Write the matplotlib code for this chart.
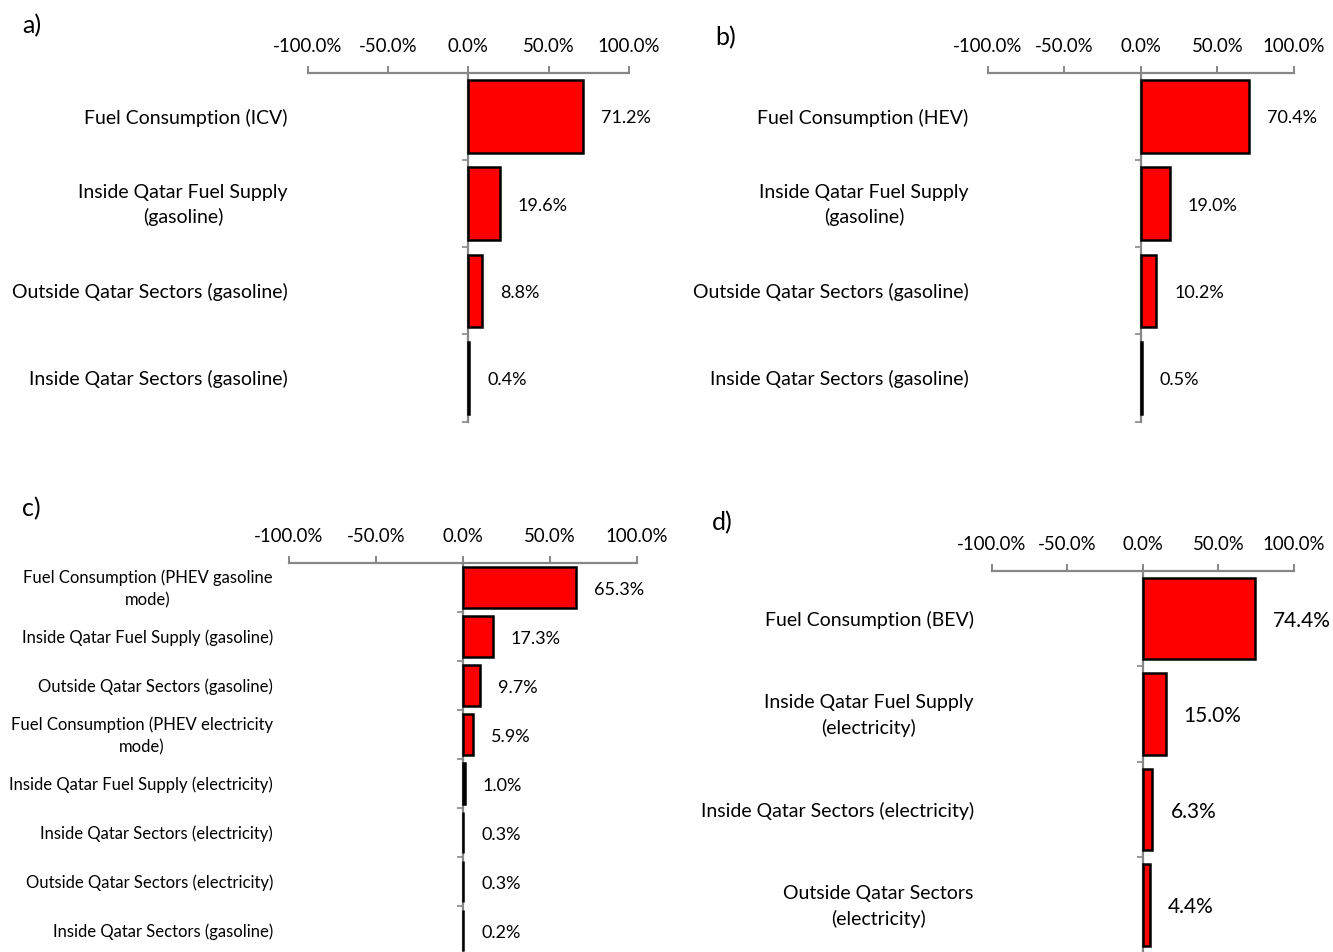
import numpy as np
import matplotlib
matplotlib.use("Agg")
import matplotlib.pyplot as plt
from matplotlib.ticker import FixedLocator, NullLocator

plt.rcParams["font.family"] = ["Lato", "DejaVu Sans"]

# ---- data -------------------------------------------------------------
x_ticks = [-100, -50, 0, 50, 100]

a_labels = ["Fuel Consumption (ICV)",
            "Inside Qatar Fuel Supply\n(gasoline)",
            "Outside Qatar Sectors (gasoline)",
            "Inside Qatar Sectors (gasoline)"]
a_values = [71.2, 19.6, 8.8, 0.4]

b_labels = ["Fuel Consumption (HEV)",
            "Inside Qatar Fuel Supply\n(gasoline)",
            "Outside Qatar Sectors (gasoline)",
            "Inside Qatar Sectors (gasoline)"]
b_values = [70.4, 19.0, 10.2, 0.5]

c_labels = ["Fuel Consumption (PHEV gasoline\nmode)",
            "Inside Qatar Fuel Supply (gasoline)",
            "Outside Qatar Sectors (gasoline)",
            "Fuel Consumption (PHEV electricity\nmode)",
            "Inside Qatar Fuel Supply (electricity)",
            "Inside Qatar Sectors (electricity)",
            "Outside Qatar Sectors (electricity)",
            "Inside Qatar Sectors (gasoline)"]
c_values = [65.3, 17.3, 9.7, 5.9, 1.0, 0.3, 0.3, 0.2]

d_labels = ["Fuel Consumption (BEV)",
            "Inside Qatar Fuel Supply\n(electricity)",
            "Inside Qatar Sectors (electricity)",
            "Outside Qatar Sectors\n(electricity)"]
d_values = [74.4, 15.0, 6.3, 4.4]

# ---- style ------------------------------------------------------------
W, H = 1333, 952
GRAY = "#878787"
BAR_RED = "#ff0000"

fig = plt.figure(figsize=(W / 100, H / 100), dpi=100)


def px_axes(left, right, top, bottom):
    """Axes rectangle given in pixel coordinates (origin top-left)."""
    return fig.add_axes([left / W, 1 - bottom / H, (right - left) / W, (bottom - top) / H])


def draw_panel(ax, labels, values, letter, letter_xy, label_size, value_size,
               label_gap=20, bar_h=0.83):
    n = len(values)
    y = np.arange(n)
    ax.barh(y, values, height=bar_h, color=BAR_RED, edgecolor="black",
            linewidth=1.8, zorder=3)
    ax.set_xlim(-100, 100)
    ax.set_ylim(n - 0.5, -0.5)

    # value axis on top
    ax.xaxis.tick_top()
    ax.set_xticks(x_ticks)
    ax.set_xticklabels([f"{v:.1f}%" for v in x_ticks])
    ax.tick_params(axis="x", which="major", direction="out", length=5,
                   width=1.4, color=GRAY, labelsize=13.4, pad=8, labelcolor="black")

    # category axis crossing at zero, ticks between categories
    ax.spines["left"].set_position(("data", 0))
    ax.spines["left"].set_color(GRAY)
    ax.spines["left"].set_linewidth(1.6)
    ax.spines["left"].set_zorder(2)
    ax.spines["top"].set_color(GRAY)
    ax.spines["top"].set_linewidth(1.6)
    ax.spines["right"].set_visible(False)
    ax.spines["bottom"].set_visible(False)
    ax.yaxis.set_major_locator(NullLocator())
    ax.yaxis.set_minor_locator(FixedLocator(np.arange(0.5, n, 1.0)))
    ax.tick_params(axis="y", which="minor", direction="out", length=4.5,
                   width=1.2, color=GRAY)

    # category names at the left of the plot area
    tr = ax.get_yaxis_transform()
    for yi, lab in zip(y, labels):
        ax.annotate(lab, xy=(0, yi), xycoords=tr, xytext=(-label_gap * 0.72, -1),
                    textcoords="offset points", ha="right", va="center",
                    multialignment="center", fontsize=label_size,
                    linespacing=1.5, annotation_clip=False)

    # value labels at the outside end of each bar
    for yi, v in zip(y, values):
        ax.annotate(f"{v:.1f}%", xy=(v, yi), xytext=(13, -1.5),
                    textcoords="offset points", ha="left", va="center",
                    fontsize=value_size, annotation_clip=False)

    fig.text(letter_xy[0] / W, 1 - letter_xy[1] / H, letter, fontsize=18,
             ha="left", va="center")


ax_a = px_axes(307.7, 629.0, 72.7, 421.7)
draw_panel(ax_a, a_labels, a_values, "a)", (22, 26), 14.0, 13.0)

ax_b = px_axes(987.7, 1294.0, 72.7, 421.7)
draw_panel(ax_b, b_labels, b_values, "b)", (715, 38), 14.0, 13.0, label_gap=19)

ax_c = px_axes(289.0, 636.7, 563.3, 955.3)
draw_panel(ax_c, c_labels, c_values, "c)", (22, 509), 12.0, 13.0,
           label_gap=16, bar_h=0.84)

ax_d = px_axes(991.7, 1294.0, 570.7, 952.7)
draw_panel(ax_d, d_labels, d_values, "d)", (712, 523), 14.0, 15.0,
           label_gap=18, bar_h=0.85)

fig.savefig("out.png", dpi=100)
